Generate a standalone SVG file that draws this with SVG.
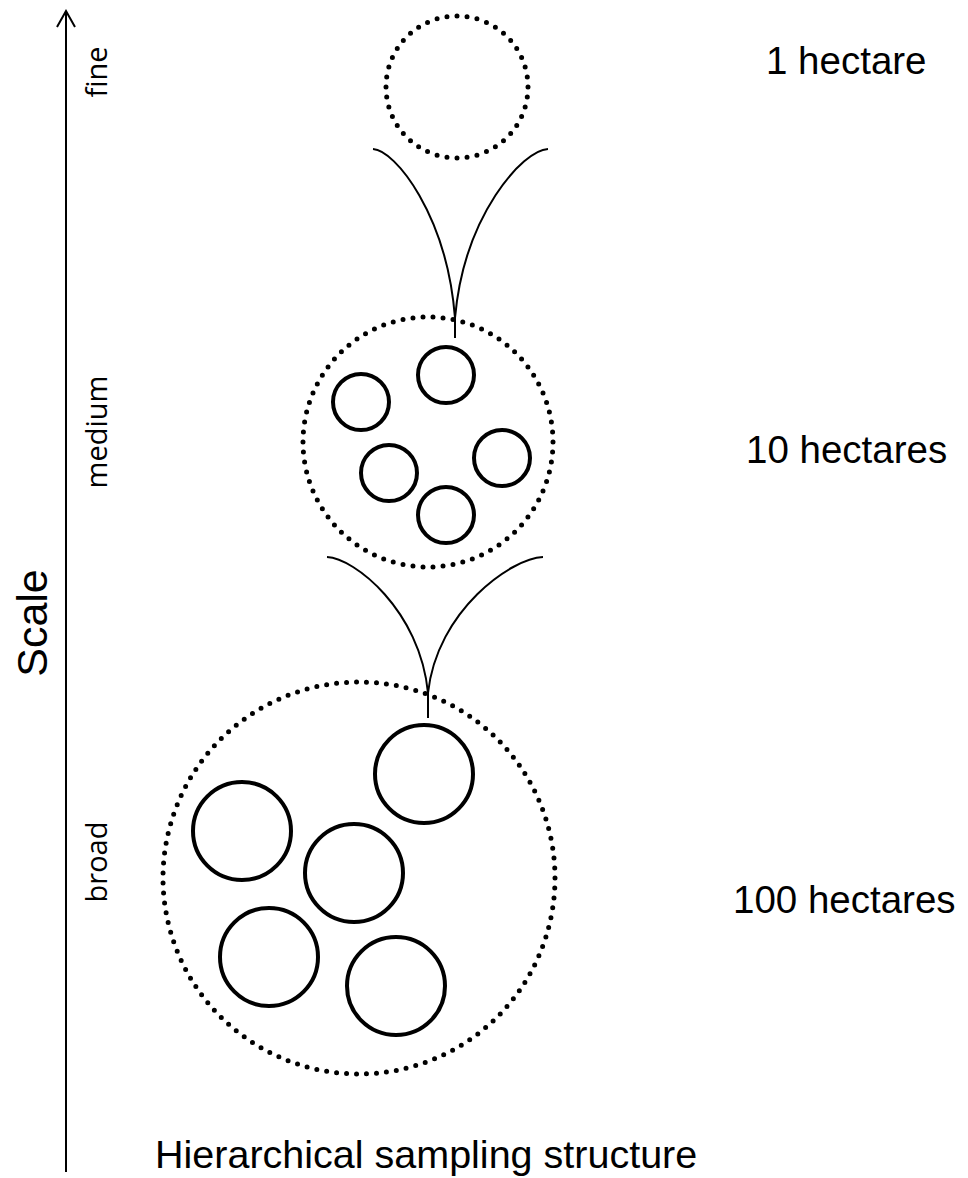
<svg xmlns="http://www.w3.org/2000/svg" width="968" height="1178" viewBox="0 0 968 1178">
  <style>
    .dotted { fill: none; stroke: #000; stroke-width: 5; stroke-dasharray: 0 10; stroke-linecap: round; }
    .plot { fill: none; stroke: #000; stroke-width: 4; }
    .link { fill: none; stroke: #000; stroke-width: 2; }
    .axis { fill: none; stroke: #000; stroke-width: 2; }
    .area { font-family: "Liberation Sans", Arial, sans-serif; font-size: 38.5px; fill: #000; }
    .level { font-family: "Open Sans", "DejaVu Sans", sans-serif; font-size: 29px; fill: #000; text-anchor: middle; }
    .title { font-family: "Liberation Sans", Arial, sans-serif; fill: #000; }
  </style>
  <defs>
    <marker id="openArrow" viewBox="0 0 20 20" refX="18" refY="10" markerWidth="20" markerHeight="20" markerUnits="userSpaceOnUse" orient="auto">
      <path d="M2,1 L18,10 L2,19" fill="none" stroke="#000" stroke-width="2"/>
    </marker>
  </defs>
  <rect width="968" height="1178" fill="#fff"/>

  <!-- vertical scale axis -->
  <g id="scale-axis">
    <line class="axis" x1="66" y1="1172" x2="66" y2="11" marker-end="url(#openArrow)"/>
    <text class="title" font-size="43" text-anchor="middle" transform="translate(47,623) rotate(-90)">Scale</text>
    <text class="level" transform="translate(107,72) rotate(-90)">fine</text>
    <text class="level" transform="translate(107,432) rotate(-90)">medium</text>
    <text class="level" transform="translate(107,862) rotate(-90)">broad</text>
  </g>

  <!-- 1 hectare plot -->
  <g id="fine-plot">
    <circle class="dotted" cx="457" cy="87" r="71" pathLength="440"/>
    <text class="area" x="766" y="74">1 hectare</text>
  </g>

  <!-- 10 hectare area with 1 ha plots -->
  <g id="medium-area">
    <circle class="dotted" cx="428" cy="442" r="125" pathLength="780"/>
    <circle class="plot" cx="446" cy="375" r="28"/>
    <circle class="plot" cx="361" cy="402" r="28"/>
    <circle class="plot" cx="389" cy="473" r="28"/>
    <circle class="plot" cx="502" cy="458" r="28"/>
    <circle class="plot" cx="446" cy="515" r="28"/>
    <text class="area" x="746" y="463">10 hectares</text>
  </g>

  <!-- 100 hectare area with 10 ha areas -->
  <g id="broad-area">
    <circle class="dotted" cx="359" cy="878" r="196" pathLength="1230"/>
    <circle class="plot" cx="424" cy="774" r="49"/>
    <circle class="plot" cx="242" cy="831" r="49"/>
    <circle class="plot" cx="354" cy="873" r="49"/>
    <circle class="plot" cx="269" cy="957" r="49"/>
    <circle class="plot" cx="396" cy="986" r="49"/>
    <text class="area" x="733" y="913">100 hectares</text>
  </g>

  <!-- zoom funnels between levels -->
  <g id="connectors">
    <path class="link" d="M373,149 C395,150 447,215 455,318 L455,338"/>
    <path class="link" d="M548,149 C523,150 464,215 455,318"/>
    <path class="link" d="M327,557 C354,558 420,610 428,693 L428,718"/>
    <path class="link" d="M543,557 C512,558 437,610 428,693"/>
  </g>

  <text class="title" font-size="39.5" x="155" y="1168">Hierarchical sampling structure</text>
</svg>
